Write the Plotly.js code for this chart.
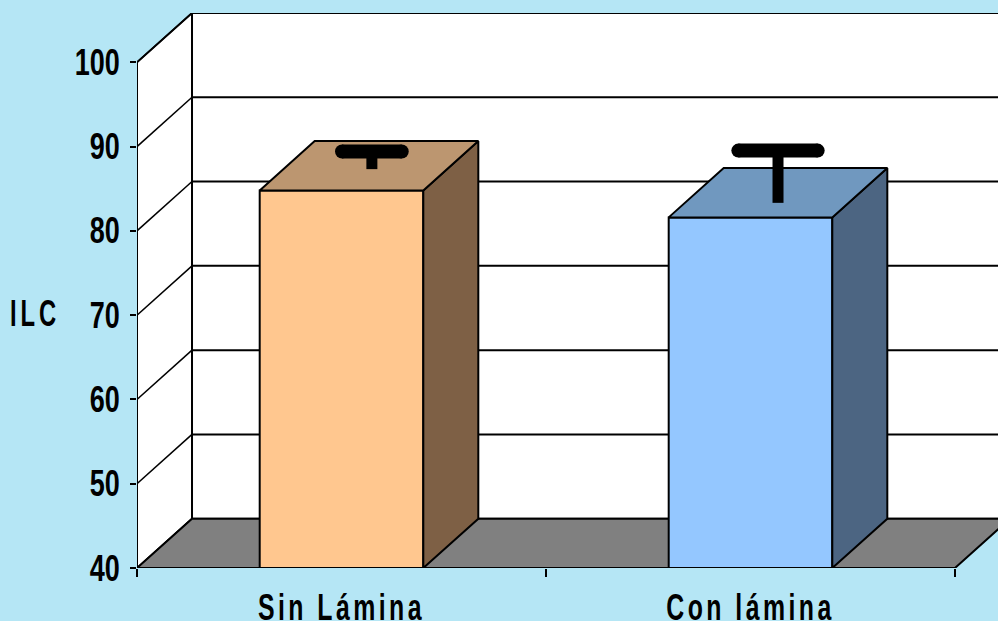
<!DOCTYPE html>
<html>
<head>
<meta charset="utf-8">
<script src="https://cdn.plot.ly/plotly-3.0.1.min.js"></script>
<style>
  html, body { margin: 0; padding: 0; background: #B5E6F5; }
  #chart { width: 998px; height: 621px; }
  .xtick text { letter-spacing: 5px; }
  .annotation-text { letter-spacing: 6px; }
</style>
</head>
<body>
<div id="chart"></div>
<script>
// ILC by treatment
const categories = ['Sin Lámina', 'Con lámina'];
const values = [84.8, 81.6];
const errorUp = [1.7, 5.0];
const errorDown = [0.4, 1.2];
const capHalf = [0.073, 0.097];
const whiskerShift = [0.007, 0];
const yTicks = [40, 50, 60, 70, 80, 90, 100];
const frontColors = ['#FFC78F', '#94C7FF'];
const topColors = ['#BC9670', '#7098BF'];
const sideColors = ['#7E6045', '#4C6582'];

// Oblique projection of the box: how far the back plane is shifted, in axis units
const depthX = 0.1345;
const depthY = 5.85;
const barHalf = 0.2;
const xStart = -0.5, xEnd = 1.5;
const yMin = 40, yMax = 100;
const positions = categories.map((_, i) => i);

const line = { color: '#000', width: 2 };
const seg = (x0, y0, x1, y1, w) => ({
  type: 'line', layer: 'below', xref: 'x', yref: 'y', x0, y0, x1, y1,
  line: { color: '#000', width: w || 2 }
});
const poly = (xs, ys, fill) => ({
  type: 'path', layer: 'below', xref: 'x', yref: 'y',
  path: xs.map((x, i) => (i ? 'L' : 'M') + x + ',' + ys[i]).join(' ') + ' Z',
  fillcolor: fill, line: { color: '#000', width: 2 }
});

// Walls, floor and gridlines sit beneath the bars
const shapes = [
  poly([xStart, xStart + depthX, xStart + depthX, xStart],
       [yMin, yMin + depthY, yMax + depthY, yMax], '#FFFFFF'),
  poly([xStart + depthX, xEnd + depthX, xEnd + depthX, xStart + depthX],
       [yMin + depthY, yMin + depthY, yMax + depthY, yMax + depthY], '#FFFFFF'),
  poly([xStart, xEnd, xEnd + depthX, xStart + depthX],
       [yMin, yMin, yMin + depthY, yMin + depthY], '#808080'),
  seg(xStart, yMin, xStart, yMax)
];
yTicks.slice(1).forEach(v => {
  shapes.push(seg(xStart, v, xStart + depthX, v + depthY, 1.5));
  shapes.push(seg(xStart + depthX, v + depthY, xEnd + depthX, v + depthY));
});

const faceTrace = (xs, ys, fill) => ({
  type: 'scatter', mode: 'lines', x: xs, y: ys, fill: 'toself', fillcolor: fill,
  line, cliponaxis: false, hoverinfo: 'skip', showlegend: false
});

const traces = [{
  type: 'bar', x: positions, y: values, width: barHalf * 2,
  marker: { color: frontColors, line },
  hoverinfo: 'x+y', showlegend: false
}];

positions.forEach((p, i) => {
  const v = values[i], l = p - barHalf, r = p + barHalf;
  traces.push(faceTrace([r, r + depthX, r + depthX, r, r],
    [yMin, yMin + depthY, v + depthY, v, yMin], sideColors[i]));
  traces.push(faceTrace([l, r, r + depthX, l + depthX, l],
    [v, v, v + depthY, v + depthY, v], topColors[i]));
});

// Front edge of the floor
traces.push({
  type: 'scatter', mode: 'lines', x: [xStart, xEnd], y: [yMin, yMin],
  line, cliponaxis: false, hoverinfo: 'skip', showlegend: false
});

// Error whiskers stand at the middle of each bar's top face
positions.forEach((p, i) => {
  const cx = p + depthX / 2 + whiskerShift[i], cy = values[i] + depthY / 2;
  const hi = cy + errorUp[i], lo = cy - errorDown[i];
  traces.push({
    type: 'scatter', mode: 'lines', x: [cx, cx], y: [lo, hi],
    line: { color: '#000', width: 11 }, cliponaxis: false,
    hoverinfo: 'skip', showlegend: false
  });
  traces.push({
    type: 'scatter', mode: 'lines+markers',
    x: [cx - capHalf[i], cx + capHalf[i]], y: [hi, hi],
    line: { color: '#000', width: 14 },
    marker: { color: '#000', size: 14 }, cliponaxis: false,
    hoverinfo: 'skip', showlegend: false
  });
});

const tickFont = { family: '"Liberation Sans", sans-serif', size: 36, color: '#000', weight: 'bold' };

const layout = {
  width: 998, height: 621,
  margin: { l: 137, r: 0, t: 13, b: 53, pad: 0 },
  paper_bgcolor: '#B5E6F5',
  plot_bgcolor: 'rgba(0,0,0,0)',
  bargap: 0.6,
  shapes,
  xaxis: {
    type: 'linear', range: [xStart, xStart + 861 / 409],
    tickmode: 'array', tickvals: positions, ticktext: categories,
    ticks: '', showgrid: false, zeroline: false, showline: false,
    tickfont: tickFont, ticklabelstandoff: 15,
    minor: { tickmode: 'array', tickvals: [-0.5, 0.5, 1.5], ticks: 'outside', ticklen: 8, tickwidth: 2, tickcolor: '#000', showgrid: false }
  },
  yaxis: {
    range: [yMin, yMax + depthY],
    tickmode: 'array', tickvals: yTicks, ticks: 'outside', ticklen: 6,
    tickwidth: 2, tickcolor: '#000', showgrid: false, zeroline: false, showline: false,
    tickfont: tickFont, ticklabelstandoff: 3
  },
  annotations: [{
    text: 'ILC', xref: 'paper', yref: 'paper', x: -0.1185, y: 0.4577,
    xanchor: 'center', yanchor: 'middle', showarrow: false,
    font: tickFont
  }]
};

// Narrow the heavy labels horizontally while keeping their height
const narrow = (selector, k) => document.querySelectorAll(selector).forEach(t => {
  t.setAttribute('textLength', t.getComputedTextLength() * k);
  t.setAttribute('lengthAdjust', 'spacingAndGlyphs');
});

Plotly.newPlot('chart', traces, layout, { displayModeBar: false, staticPlot: true }).then(() => {
  narrow('.ytick text', 0.75);
  narrow('.xtick text', 0.69);
  narrow('.annotation-text', 0.66);
});
</script>
</body>
</html>
